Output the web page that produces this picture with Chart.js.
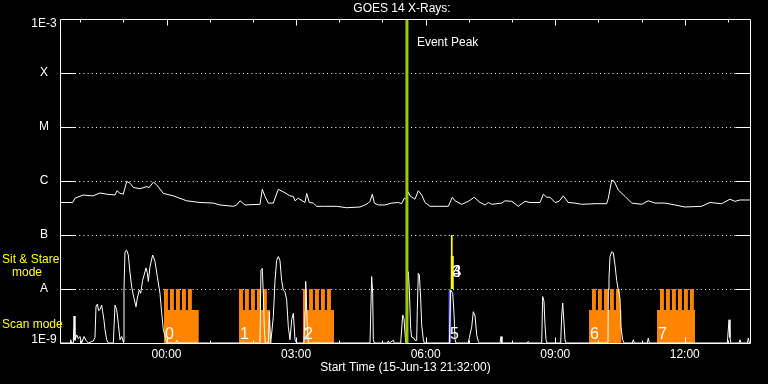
<!DOCTYPE html>
<html>
<head>
<meta charset="utf-8">
<script src="https://cdn.jsdelivr.net/npm/chart.js@4.4.0/dist/chart.umd.min.js"></script>
<style>
html, body { margin: 0; padding: 0; background: #000; }
canvas { display: block; }
</style>
</head>
<body>
<canvas id="goesChart" width="768" height="384"></canvas>
<script>
// times are minutes after the start time, 15-Jun-13 21:32:00
const startLabel = 'Start Time (15-Jun-13 21:32:00)';
const timeSpan = 960;

const goesTime = [0, 17.6, 20.8, 32, 45.8, 55.6, 64.9, 76.4, 79.2, 83.4,
    87.9, 92.7, 97.3, 101.8, 111.1, 120.9, 123.6, 129.6, 134.3, 143.5,
    157.4, 176, 194.5, 213, 222.3, 240.8, 245.5, 250.1, 253.8, 257,
    277.9, 281, 284.8, 289.4, 296.3, 303.3, 310.2, 319.5, 324.1, 326.5,
    331.1, 340.4, 342.7, 346.4, 351.9, 356.6, 365.8, 384.4, 398.3, 416.8,
    423.7, 428.3, 430.7, 433.9, 436.7, 442.2, 451.5, 460.8, 470, 474.7,
    478.3, 481.7, 483.9, 486.3, 493.2, 497.8, 502.5, 507.1, 514, 525.6,
    539.5, 545, 548.8, 558.1, 567.3, 575.6, 583.5, 590.5, 595.1, 599.8,
    613.7, 618.3, 627.6, 636.7, 646, 653, 666.9, 671.5, 676.2, 680.8,
    687.7, 693.3, 699.2, 706.2, 715.5, 724.8, 743.3, 759.5, 761.8, 766.5,
    770.1, 775.6, 784.9, 794.2, 808.1, 817.3, 826.6, 840.5, 854.4, 868.3,
    891.5, 903, 919.3, 930.8, 937.7, 944.7, 954, 960];
// GOES 1-8 A flux, W/m^2
const goesFlux = [4.0e-7, 4.0e-7, 4.8e-7, 5.5e-7, 5.3e-7, 6.0e-7, 5.7e-7, 5.5e-7, 6.6e-7, 5.9e-7,
    5.7e-7, 9.8e-7, 9.1e-7, 7.6e-7, 7.2e-7, 7.9e-7, 7.5e-7, 9.5e-7, 8.5e-7, 5.9e-7,
    5.3e-7, 4.3e-7, 4.0e-7, 3.9e-7, 3.6e-7, 3.4e-7, 3.6e-7, 4.3e-7, 3.9e-7, 3.6e-7,
    3.7e-7, 7.0e-7, 5.2e-7, 3.9e-7, 3.9e-7, 7.0e-7, 6.3e-7, 5.3e-7, 5.2e-7, 4.3e-7,
    4.8e-7, 4.0e-7, 5.9e-7, 4.0e-7, 3.9e-7, 3.4e-7, 3.4e-7, 3.4e-7, 3.2e-7, 3.3e-7,
    3.6e-7, 3.9e-7, 4.2e-7, 5.7e-7, 3.9e-7, 3.6e-7, 3.6e-7, 3.9e-7, 4.0e-7, 3.8e-7,
    4.8e-7, 4.6e-7, 6.3e-7, 5.3e-7, 4.6e-7, 6.6e-7, 5.5e-7, 4.0e-7, 3.4e-7, 3.4e-7,
    3.4e-7, 5.0e-7, 4.3e-7, 3.7e-7, 4.2e-7, 5.0e-7, 4.0e-7, 3.6e-7, 4.0e-7, 3.7e-7,
    3.9e-7, 4.3e-7, 4.2e-7, 3.4e-7, 4.2e-7, 4.0e-7, 4.0e-7, 5.7e-7, 5.0e-7, 5.0e-7,
    4.0e-7, 4.2e-7, 5.3e-7, 4.0e-7, 3.9e-7, 3.7e-7, 3.8e-7, 3.8e-7, 4.8e-7, 1.04e-6,
    9.8e-7, 6.8e-7, 5.2e-7, 3.9e-7, 3.7e-7, 4.3e-7, 3.9e-7, 3.9e-7, 3.6e-7, 3.3e-7,
    3.4e-7, 4.0e-7, 3.8e-7, 4.6e-7, 4.2e-7, 4.45e-7, 4.45e-7, 4.45e-7];

// lower panel trace (panel units: 1 = A line, 2 = B line)
const lowerTime = [0, 13.9, 14.8, 16.2, 18.5, 19.5, 20.8, 23.2, 25.5, 27.8,
    30.1, 33.3, 36.1, 39.4, 46.3, 48.6, 50, 51.9, 53.7, 55.6,
    57.9, 59.3, 61.1, 62.5, 64.8, 67.2, 74.1, 76.4, 78.7, 81,
    83.4, 85.7, 88, 88.9, 90.3, 92.6, 94.9, 97.3, 99.6, 101.8,
    105.6, 107.4, 110.2, 112.1, 114.8, 119.5, 121.3, 122.7, 125, 128.7,
    132, 135.2, 138.9, 141.3, 143.5, 147.3, 149.1, 160.7, 162.1, 164.4,
    277.8, 279.2, 281, 282.5, 283.8, 285.2, 289.4, 290.8, 292.7, 296.4,
    298.7, 301, 303.3, 305.6, 307.9, 310.2, 312.6, 314.9, 317.2, 319.5,
    321.9, 324.2, 326.5, 328.8, 339, 340.4, 341.3, 342.7, 343.6, 345,
    430.7, 433, 434.4, 435.3, 436.7, 454.8, 456.2, 457.5, 463.1, 464.5,
    473.3, 476.1, 477.9, 479.8, 480.7, 482.5, 483.9, 485.3, 487.2, 488.5,
    490.8, 493.2, 495.5, 496.4, 497.8, 499.2, 501.1, 502.5, 504.8, 506.2,
    540.9, 542.8, 545.6, 547.4, 548.8, 550.2, 567.3, 568.7, 572, 574.2,
    576.6, 578.9, 581.2, 582.5, 611.3, 612.7, 614, 649.2, 650.6, 652,
    669.2, 670.6, 672.4, 673.8, 675.2, 676.6, 695.6, 697, 698.4, 700.2,
    701.6, 703, 761.3, 761.8, 762.7, 764.1, 766.5, 768.7, 771.1, 773.4,
    775.6, 778, 779.3, 781.7, 783.6, 795.1, 796.5, 797.9, 815.9, 817.3,
    818.7, 927.1, 929.5, 930.8, 932, 943.3, 944.7, 946, 954.9, 956.3,
    957.7, 960];
const lowerValue = [0, 0, 0.06, 0, 0, 0.5, 0.05, 0.15, 0.08, 0.12,
    0, 0.12, 0.05, 0, 0.04, 0.1, 0.67, 0.72, 0.6, 0.62,
    0.7, 0.58, 0.42, 0.25, 0.06, 0, 0, 0.7, 0.62, 0.36,
    0.06, 0.12, 0.02, 0.98, 1.69, 1.72, 1.63, 1.3, 1.04, 0.89,
    0.67, 0.83, 0.98, 0.92, 1.16, 1.39, 1.3, 1.14, 1.41, 1.63,
    1.51, 1.23, 0.92, 0.55, 0.25, 0.06, 0, 0, 0.05, 0,
    0, 1.35, 1.38, 0.9, 0.3, 0, 0, 0.58, 0, 0.49,
    1.16, 1.53, 1.6, 1.53, 1.16, 0.98, 0.95, 0.8, 0.3, 0.06,
    0.43, 0.55, 0.06, 0, 0, 0.6, 1.14, 0.64, 0.3, 0,
    0, 1.23, 0.92, 0.06, 0, 0, 0.04, 0, 0.05, 0,
    0, 0.52, 0.45, 0.1, 0, 0.8, 1.32, 1.0, 0.27, 0.11,
    0.1, 0.05, 0.05, 0.6, 1.29, 1.26, 0.82, 0.33, 0.06, 0,
    0, 0.98, 0.92, 0.55, 0.06, 0, 0, 0.1, 0.3, 0.58,
    0.5, 0.15, 0.03, 0, 0, 0.12, 0, 0, 0.03, 0,
    0, 0.86, 0.77, 0.34, 0.06, 0, 0, 0.5, 0.74, 0.37,
    0.06, 0, 0, 1.0, 1.2, 1.6, 1.69, 1.67, 1.44, 1.16,
    0.98, 0.83, 0.3, 0.06, 0, 0, 0.06, 0, 0, 0.09,
    0, 0, 0.43, 0.1, 0, 0, 0.06, 0, 0, 0.09,
    0, 0];

// scan mode observations
const scanStart = [144.5, 248.7, 337.6, 735.0, 829.4];
const scanEnd = [192.7, 291.8, 380.7, 779.8, 882.2];
const scanRasters = [
    [144.5, 152.8, 161.2, 169.5, 177.8],
    [248.7, 257.0, 265.4, 273.7, 282.0],
    [337.6, 346.0, 354.3, 362.6, 371.0],
    [739.1, 747.4, 755.8, 764.1, 772.4],
    [833.6, 841.9, 850.2, 858.6, 866.9, 875.2]
];
const rasterDuration = 5.4;
const scanBaseLevel = 0.61;
const scanTopLevel = 1;

// short scan (blue) and sit & stare (yellow) observations
const shortScan = {start: 539.6, end: 543.8, top: 1};
const sitStart = [542.7, 542.7];
const sitEnd = [545.7, 547.2];
const sitTop = [2.0, 1.61];

const eventLabels = ['0', '1', '2', '3', '4', '5', '6', '7'];
const eventLabelTime = [144.5, 248.7, 337.6, 543.5, 543.5, 540.4, 735.0, 829.4];
const eventLabelMode = ['scan', 'scan', 'scan', 'sit', 'sit', 'scan', 'scan', 'scan'];

const eventPeak = 482;

const xTickTime = [148, 328, 508, 688, 868];
const xTickLabels = ['00:00', '03:00', '06:00', '09:00', '12:00'];
const yTickValues = [1e-9, 1e-8, 1e-7, 1e-6, 1e-5, 1e-4, 1e-3];
const yTickLabels = ['1E-9', 'A', 'B', 'C', 'M', 'X', '1E-3'];

const FONT = '"Liberation Sans", Arial, sans-serif';

function scanPoints() {
    let pts = [];
    scanStart.forEach((s, i) => {
        if (scanRasters[i][0] > s) pts.push({x: s, y: scanBaseLevel});
        for (let r of scanRasters[i]) {
            pts.push({x: r, y: scanTopLevel});
            pts.push({x: r + rasterDuration, y: scanBaseLevel});
        }
        pts.push({x: scanEnd[i], y: 0});
    });
    return pts;
}

const frame = {
    id: 'goesFrame',
    beforeDraw(chart) {
        const ctx = chart.ctx;
        ctx.save();
        ctx.fillStyle = '#000';
        ctx.fillRect(0, 0, chart.width, chart.height);
        ctx.restore();
    },
    beforeDatasetsDraw(chart) {
        const {ctx, chartArea: a, scales} = chart;
        ctx.save();
        ctx.strokeStyle = '#fff';
        ctx.lineWidth = 1;
        ctx.setLineDash([1, 3.2]);
        for (let v of yTickValues.slice(1, -1)) {
            const y = Math.round(scales.y.getPixelForValue(v)) + 0.5;
            ctx.beginPath();
            ctx.moveTo(a.left + 15, y);
            ctx.lineTo(a.right - 15, y);
            ctx.stroke();
        }
        ctx.restore();
    },
    afterDatasetsDraw(chart) {
        const {ctx, chartArea: a, scales} = chart;
        const left = Math.round(a.left) + 0.5, right = Math.round(a.right) - 0.5;
        const top = Math.round(a.top) + 0.5, bottom = Math.round(a.bottom) + 0.5;
        ctx.save();
        ctx.strokeStyle = '#fff';
        ctx.lineWidth = 1;
        ctx.beginPath();
        ctx.moveTo(left, top); ctx.lineTo(right, top); ctx.lineTo(right, bottom);
        ctx.lineTo(left, bottom); ctx.closePath();
        // y ticks, solid on both sides
        for (let v of yTickValues.slice(1, -1)) {
            const y = Math.round(scales.y.getPixelForValue(v)) + 0.5;
            ctx.moveTo(left, y); ctx.lineTo(left + 15, y);
            ctx.moveTo(right - 15, y); ctx.lineTo(right, y);
        }
        // hourly x ticks, top and bottom
        for (let t = 28; t < timeSpan; t += 60) {
            const x = Math.round(scales.x.getPixelForValue(t)) + 0.5;
            const len = xTickTime.includes(t) ? 6 : 3;
            ctx.moveTo(x, top); ctx.lineTo(x, top + len);
            ctx.moveTo(x, bottom); ctx.lineTo(x, bottom - len);
        }
        ctx.stroke();

        ctx.fillStyle = '#fff';
        ctx.font = '12px ' + FONT;
        ctx.textAlign = 'center';
        ctx.textBaseline = 'middle';
        ctx.fillText('GOES 14 X-Rays:', 402, 9);
        ctx.fillText(startLabel, (a.left + a.right) / 2, 368);
        xTickTime.forEach((t, i) => {
            ctx.fillText(xTickLabels[i], scales.x.getPixelForValue(t), 355);
        });
        yTickValues.forEach((v, i) => {
            let y = scales.y.getPixelForValue(v);
            y = Math.min(Math.max(y, a.top + 5), a.bottom - 3);
            ctx.fillText(yTickLabels[i], 44, y);
        });
        ctx.textAlign = 'left';
        ctx.fillText('Event Peak', scales.x.getPixelForValue(eventPeak) + 10, 43);

        ctx.fillStyle = '#ffff00';
        ctx.textBaseline = 'alphabetic';
        ctx.fillText('Sit & Stare', 2, 263);
        ctx.fillText('mode', 12, 276);
        ctx.fillText('Scan mode', 2, 328);

        ctx.fillStyle = '#fff';
        ctx.font = '16px ' + FONT;
        eventLabels.forEach((txt, i) => {
            const x = scales.x.getPixelForValue(eventLabelTime[i]) + 1;
            const y = eventLabelMode[i] === 'sit' ? scales.yb.getPixelForValue(1) - 12 : scales.yb.getPixelForValue(0) - 4;
            ctx.fillText(txt, x, y);
        });
        ctx.restore();
    }
};

const plain = {pointRadius: 0, tension: 0, borderWidth: 1};

const chart = new Chart(document.getElementById('goesChart'), {
    type: 'line',
    data: {
        datasets: [
            {...plain, data: [{x: eventPeak, y: 0}, {x: eventPeak, y: 6}], yAxisID: 'yb',
                borderColor: '#99cc00', borderWidth: 3, order: 0},
            {...plain, data: goesTime.map((t, i) => ({x: t, y: goesFlux[i]})), yAxisID: 'y',
                borderColor: '#ffffff', order: 1},
            {...plain, data: lowerTime.map((t, i) => ({x: t, y: lowerValue[i]})), yAxisID: 'yb',
                borderColor: '#ffffff', order: 2},
            {...plain, data: [{x: shortScan.start, y: shortScan.top}, {x: shortScan.end, y: 0}], yAxisID: 'yb',
                stepped: true, borderWidth: 0, fill: 'origin', backgroundColor: '#6666ff', order: 3},
            ...sitStart.map((s, i) => ({...plain, data: [{x: s, y: sitTop[i]}, {x: sitEnd[i], y: 1}], yAxisID: 'yb',
                stepped: true, borderWidth: 0, fill: {value: 1}, backgroundColor: '#ffff00', order: 4})),
            {...plain, data: scanPoints(), yAxisID: 'yb',
                stepped: true, borderWidth: 0, fill: 'origin', backgroundColor: '#ff8400', order: 5},
        ]
    },
    options: {
        responsive: false,
        animation: false,
        devicePixelRatio: 1,
        layout: {padding: {left: 60, right: 17, top: 19, bottom: 41}},
        scales: {
            x: {type: 'linear', min: 0, max: timeSpan, display: false},
            y: {type: 'logarithmic', min: 1e-9, max: 1e-3, display: false},
            yb: {type: 'linear', min: 0, max: 6, display: false},
        },
        plugins: {legend: {display: false}, tooltip: {enabled: false}, title: {display: false}},
    },
    plugins: [frame],
});
</script>
</body>
</html>
